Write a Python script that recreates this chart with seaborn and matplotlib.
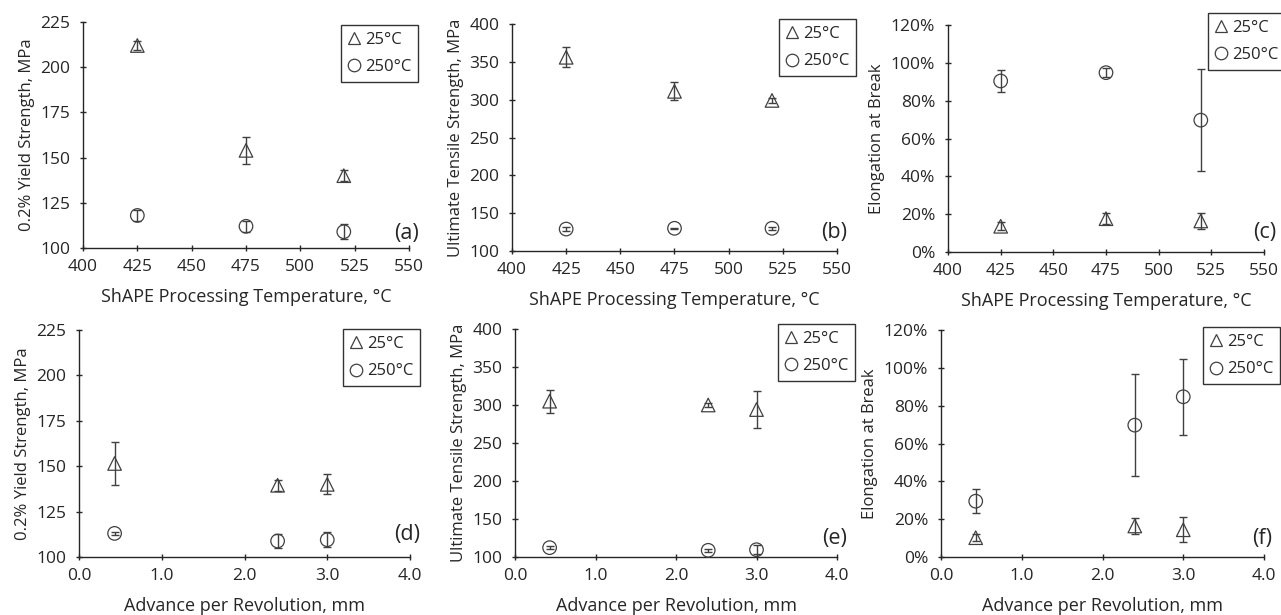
import matplotlib
matplotlib.use('Agg')
import matplotlib.pyplot as plt
from matplotlib.lines import Line2D
from matplotlib.ticker import PercentFormatter, FormatStrFormatter
import pandas as pd
import numpy as np
import seaborn as sns

# ---- data ----
temp_x = [425, 475, 520]
adv_x = [0.43, 2.4, 3.0]
levels = ['25°C', '250°C']

# (a) 0.2% yield strength vs processing temperature
ys_temp_25 = [212, 154, 140]
ys_temp_25_err = [2.5, 7.5, 3]
ys_temp_250 = [118, 112, 109]
ys_temp_250_err = [3, 3, 4]

# (b) UTS vs processing temperature
uts_temp_25 = [356, 311, 299]
uts_temp_25_err = [13, 12, 3]
uts_temp_250 = [129, 130, 130]
uts_temp_250_err = [3, 1, 2]

# (c) elongation vs processing temperature
el_temp_25 = [13.6, 17.6, 16.4]
el_temp_25_err = [2, 3, 4]
el_temp_250 = [90.4, 94.8, 69.7]
el_temp_250_err = [6, 2.5, 27]

# (d) yield strength vs advance per revolution
ys_adv_25 = [151.5, 139.5, 140]
ys_adv_25_err = [12, 3, 5.5]
ys_adv_250 = [113, 108.8, 109.5]
ys_adv_250_err = [1, 4, 4]

# (e) UTS vs advance per revolution
uts_adv_25 = [305, 300, 294]
uts_adv_25_err = [15, 3, 24]
uts_adv_250 = [112.3, 108.8, 109.6]
uts_adv_250_err = [2, 2, 6]

# (f) elongation vs advance per revolution
el_adv_25 = [10.2, 16.4, 14.4]
el_adv_25_err = [2, 4, 6.5]
el_adv_250 = [29.5, 69.7, 84.7]
el_adv_250_err = [6.5, 27, 20]

sns.set_style('ticks')
plt.rcParams['font.family'] = ['Open Sans', 'DejaVu Sans']

INK = '#262626'
EDGE = '#404040'

fig = plt.figure(figsize=(12.81, 6.15), dpi=100)
W, H = 1281, 615


def box(l, r, t, b):
    return [l / W, (H - b) / H, (r - l) / W, (b - t) / H]


def panel(rect, x, y25, e25, y250, e250, xlim, xticks, ylim, yticks, xlabel, ylabel,
          tag, tag_pos, leg_pos, pct=False, xfmt=None):
    ax = fig.add_axes(rect)
    df = pd.DataFrame({
        'x': list(x) * 2,
        'y': list(y25) + list(y250),
        'err': list(e25) + list(e250),
        'temp': [levels[0]] * len(x) + [levels[1]] * len(x),
    })
    ax.errorbar(df['x'], df['y'], yerr=df['err'], fmt='none', ecolor=EDGE,
                elinewidth=1.0, capsize=3, capthick=1.0, zorder=2)
    sns.scatterplot(data=df, x='x', y='y', style='temp',
                    markers={levels[0]: '^', levels[1]: 'o'},
                    s=95, color=EDGE, facecolor='none', edgecolor=EDGE,
                    linewidth=0.9, legend=False, ax=ax, zorder=3, clip_on=False)
    ax.set_xlim(*xlim)
    ax.set_ylim(*ylim)
    ax.set_xticks(xticks)
    ax.set_yticks(yticks)
    if pct:
        ax.yaxis.set_major_formatter(PercentFormatter(decimals=0))
    if xfmt:
        ax.xaxis.set_major_formatter(FormatStrFormatter(xfmt))
    ax.set_xlabel(xlabel, fontsize=13, color=INK, labelpad=9)
    ax.set_ylabel(ylabel, fontsize=12, color=INK, labelpad=4)
    ax.tick_params(direction='inout', length=4.5, width=1, color=INK,
                   labelsize=12.5, labelcolor=INK)
    ax.tick_params(axis='x', pad=6)
    ax.tick_params(axis='y', pad=7)
    for s in ['left', 'bottom']:
        ax.spines[s].set_color(INK)
        ax.spines[s].set_linewidth(1)
    sns.despine(ax=ax)
    ax.text(tag_pos[0], tag_pos[1], tag, transform=ax.transAxes, ha='right',
            va='center', fontsize=15.5, color=INK)
    handles = [Line2D([], [], ls='none', marker='^', ms=9, mfc='none', mec=EDGE, mew=0.9),
               Line2D([], [], ls='none', marker='o', ms=9, mfc='none', mec=EDGE, mew=0.9)]
    leg = ax.legend(handles, levels, loc='upper right', bbox_to_anchor=leg_pos,
                    prop={'size': 12}, frameon=True, fancybox=False, edgecolor='black',
                    handlelength=0.75, handletextpad=0.3, borderpad=0.4,
                    labelspacing=0.7, borderaxespad=0)
    leg.get_frame().set_linewidth(1)
    for t in leg.get_texts():
        t.set_color(INK)
    return ax


xl_temp = 'ShAPE Processing Temperature, °C'
xl_adv = 'Advance per Revolution, mm'
tt = [400, 425, 450, 475, 500, 525, 550]
at = [0, 1, 2, 3, 4]

panel(box(83, 409, 22, 248), temp_x, ys_temp_25, ys_temp_25_err, ys_temp_250, ys_temp_250_err,
      (400, 550), tt, (100, 225), [100, 125, 150, 175, 200, 225], xl_temp,
      '0.2% Yield Strength, MPa', '(a)', (1.03, 0.066), (1.028, 0.987))
panel(box(512, 837, 24, 251), temp_x, uts_temp_25, uts_temp_25_err, uts_temp_250, uts_temp_250_err,
      (400, 550), tt, (100, 400), [100, 150, 200, 250, 300, 350, 400], xl_temp,
      'Ultimate Tensile Strength, MPa', '(b)', (1.03, 0.08), (1.058, 1.022))
panel(box(948, 1264, 25, 252), temp_x, el_temp_25, el_temp_25_err, el_temp_250, el_temp_250_err,
      (400, 550), tt, (0, 120), [0, 20, 40, 60, 80, 100, 120], xl_temp,
      'Elongation at Break', '(c)', (1.04, 0.084), (1.066, 1.053), pct=True)
panel(box(79, 410, 330, 557), adv_x, ys_adv_25, ys_adv_25_err, ys_adv_250, ys_adv_250_err,
      (0, 4), at, (100, 225), [100, 125, 150, 175, 200, 225], xl_adv,
      '0.2% Yield Strength, MPa', '(d)', (1.03, 0.097), (1.03, 1.004), xfmt='%.1f')
panel(box(515, 837, 329, 557), adv_x, uts_adv_25, uts_adv_25_err, uts_adv_250, uts_adv_250_err,
      (0, 4), at, (100, 400), [100, 150, 200, 250, 300, 350, 400], xl_adv,
      'Ultimate Tensile Strength, MPa', '(e)', (1.03, 0.083), (1.056, 1.022), xfmt='%.1f')
panel(box(941, 1264, 330, 557), adv_x, el_adv_25, el_adv_25_err, el_adv_250, el_adv_250_err,
      (0, 4), at, (0, 120), [0, 20, 40, 60, 80, 100, 120], xl_adv,
      'Elongation at Break', '(f)', (1.025, 0.083), (1.05, 1.013), pct=True, xfmt='%.1f')

fig.savefig('out.png', dpi=100, facecolor='white')
